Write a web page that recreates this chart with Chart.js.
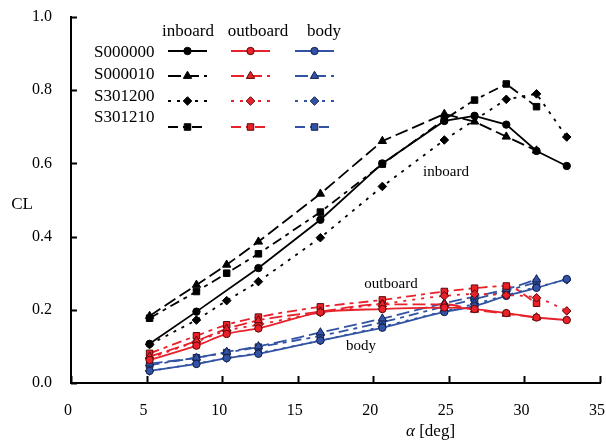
<!DOCTYPE html>
<html lang="en">
<head>
<meta charset="UTF-8">
<title>CL vs alpha</title>
<style>
  body { margin: 0; background: #fff; }
  #wrap { width: 606px; height: 443px; }
</style>
</head>
<body>
<div id="wrap"><canvas id="clChart" width="606" height="443"></canvas></div>
<script src="https://cdn.jsdelivr.net/npm/chart.js"></script>
<script>
// angle of attack [deg]
const alpha = [5.2, 8.3, 10.3, 12.4, 16.5, 20.6, 24.7, 26.7, 28.8, 30.8, 32.8];

const cases = ['S000000', 'S000010', 'S301200', 'S301210'];
const parts = ['inboard', 'outboard', 'body'];

const xTicks = [0, 5, 10, 15, 20, 25, 30, 35];
const yTicks = [0, 0.2, 0.4, 0.6, 0.8, 1.0];

// inboard CL
const inboardS000000 = [0.107, 0.195, null, 0.314, 0.446, 0.600, 0.716, 0.730, 0.706, 0.634, 0.593];
const inboardS000010 = [0.183, 0.268, 0.323, 0.386, 0.517, 0.661, 0.735, 0.714, 0.673, 0.635, null];
const inboardS301200 = [0.105, 0.172, 0.225, 0.277, 0.397, 0.537, 0.664, null, 0.775, 0.790, 0.672];
const inboardS301210 = [0.177, 0.250, 0.300, 0.353, 0.467, 0.598, 0.720, 0.773, 0.817, 0.755, null];

// outboard CL
const outboardS000000 = [0.063, 0.102, 0.134, 0.149, 0.193, 0.202, 0.206, 0.202, 0.191, 0.179, 0.172];
const outboardS000010 = [0.072, 0.115, 0.148, 0.171, 0.195, 0.215, 0.215, 0.200, 0.189, 0.179, null];
const outboardS301200 = [0.068, 0.113, 0.143, 0.159, 0.193, 0.216, 0.238, 0.243, 0.240, 0.233, 0.197];
const outboardS301210 = [0.081, 0.129, 0.159, 0.180, 0.208, 0.227, 0.250, 0.259, 0.265, 0.218, null];

// body CL
const bodyS000000 = [0.033, 0.052, 0.068, 0.080, 0.116, 0.151, 0.194, 0.210, 0.238, 0.260, 0.284];
const bodyS000010 = [0.053, 0.069, 0.085, 0.100, 0.138, 0.176, 0.218, 0.236, 0.256, 0.283, null];
const bodyS301200 = [0.033, 0.053, 0.068, 0.082, 0.116, 0.154, 0.196, 0.216, 0.240, 0.262, 0.282];
const bodyS301210 = [0.049, 0.069, 0.083, 0.098, 0.129, 0.166, 0.209, 0.229, 0.252, 0.275, null];

const values = {
  inboard: [inboardS000000, inboardS000010, inboardS301200, inboardS301210],
  outboard: [outboardS000000, outboardS000010, outboardS301200, outboardS301210],
  body: [bodyS000000, bodyS000010, bodyS301200, bodyS301210]
};

const serif = '"Liberation Serif", "Times New Roman", serif';
const lineColor = { inboard: '#000000', outboard: '#e8222b', body: '#3253a3' };
const edgeColor = { inboard: '#000000', outboard: '#5a0808', body: '#15204c' };
const markers = ['circle', 'triangle', 'rectRot', 'rect'];
const markerSize = [3.7, 4.8, 4.3, 4.6];
const dashes = [[], [13, 5], [3, 6], [10, 5, 4, 5]];

const datasets = [];
parts.forEach(part => {
  cases.forEach((name, c) => {
    const pts = [];
    values[part][c].forEach((v, i) => { if (v !== null) pts.push({ x: alpha[i], y: v }); });
    datasets.push({
      label: part + ' ' + name,
      data: pts,
      part: part,
      row: c,
      borderColor: lineColor[part],
      borderWidth: 1.8,
      borderDash: dashes[c],
      backgroundColor: lineColor[part],
      pointStyle: markers[c],
      pointRadius: markerSize[c],
      pointBackgroundColor: lineColor[part],
      pointBorderColor: edgeColor[part],
      pointBorderWidth: 1,
      cubicInterpolationMode: part === 'inboard' ? 'default' : 'monotone',
      tension: 0,
      fill: false
    });
  });
});

// inward tick marks, axis titles, in-plot labels and the table legend
const decor = {
  id: 'decor',
  afterDraw(chart) {
    const ctx = chart.ctx;
    const xs = chart.scales.x, ys = chart.scales.y;
    const area = chart.chartArea;
    ctx.save();
    ctx.strokeStyle = '#000';
    ctx.lineWidth = 2;
    ctx.setLineDash([]);
    ctx.beginPath();
    xTicks.forEach(t => {
      const px = Math.round(xs.getPixelForValue(t)) + 0.5;
      ctx.moveTo(px, area.bottom);
      ctx.lineTo(px, area.bottom - 7);
    });
    yTicks.forEach(t => {
      const py = Math.round(ys.getPixelForValue(t)) + 0.5;
      ctx.moveTo(area.left, py);
      ctx.lineTo(area.left + 6, py);
    });
    ctx.stroke();

    ctx.fillStyle = '#000';
    ctx.textBaseline = 'middle';
    ctx.textAlign = 'center';
    ctx.font = '17px ' + serif;
    ctx.fillText('CL', 22, 205);

    // x title: italic alpha + [deg]
    ctx.textAlign = 'left';
    ctx.font = 'italic 17px ' + serif;
    ctx.fillText('\u03b1', 406, 432);
    const aw = ctx.measureText('\u03b1 ').width;
    ctx.font = '17px ' + serif;
    ctx.fillText('[deg]', 406 + aw, 432);

    ctx.textAlign = 'center';
    ctx.font = '15px ' + serif;
    ctx.fillText('inboard', 446, 172);
    ctx.fillText('outboard', 391, 284);
    ctx.fillText('body', 361, 346);

    // legend table
    ctx.font = '17px ' + serif;
    const colCenter = { inboard: 188, outboard: 258, body: 324 };
    const colLine = { inboard: [168, 207], outboard: [231, 270], body: [295, 334] };
    parts.forEach(p => ctx.fillText(p, colCenter[p], 32));
    const labelY = [53, 75, 97, 118];
    const sampleY = [51, 76, 101, 127];
    ctx.textAlign = 'left';
    cases.forEach((name, r) => ctx.fillText(name, 94, labelY[r]));
    chart.data.datasets.forEach(ds => {
      const [x0, x1] = colLine[ds.part];
      const y = sampleY[ds.row];
      ctx.strokeStyle = ds.borderColor;
      ctx.lineWidth = ds.borderWidth;
      ctx.setLineDash(ds.borderDash);
      ctx.beginPath();
      ctx.moveTo(x0, y);
      ctx.lineTo(x1, y);
      ctx.stroke();
      ctx.setLineDash([]);
      ctx.fillStyle = ds.pointBackgroundColor;
      ctx.strokeStyle = ds.pointBorderColor;
      ctx.lineWidth = 1;
      Chart.helpers.drawPoint(ctx, { pointStyle: ds.pointStyle, radius: ds.pointRadius, rotation: 0, borderWidth: 1 }, (x0 + x1) / 2, y);
    });
    ctx.restore();
  }
};

new Chart(document.getElementById('clChart'), {
  type: 'line',
  data: { datasets: datasets },
  options: {
    responsive: false,
    animation: false,
    layout: { padding: { top: 17, right: 6, left: 0, bottom: 0 } },
    plugins: { legend: { display: false }, tooltip: { enabled: false } },
    scales: {
      x: {
        type: 'linear',
        min: 0,
        max: 35,
        grid: { display: false, drawTicks: false },
        border: { display: true, color: '#000', width: 2 },
        ticks: { stepSize: 5, color: '#000', font: { family: serif, size: 16 }, padding: 18, maxRotation: 0, labelOffset: -3 },
        afterFit(scale) { scale.height = 60; scale.paddingRight = 0; scale.paddingLeft = 0; }
      },
      y: {
        min: 0,
        max: 1,
        grid: { display: false, drawTicks: false },
        border: { display: true, color: '#000', width: 2 },
        ticks: { stepSize: 0.2, color: '#000', font: { family: serif, size: 16 }, padding: 19,
          callback: v => v.toFixed(1) },
        afterFit(scale) { scale.width = 71; scale.paddingTop = 0; scale.paddingBottom = 0; }
      }
    }
  },
  plugins: [decor]
});
</script>
</body>
</html>
